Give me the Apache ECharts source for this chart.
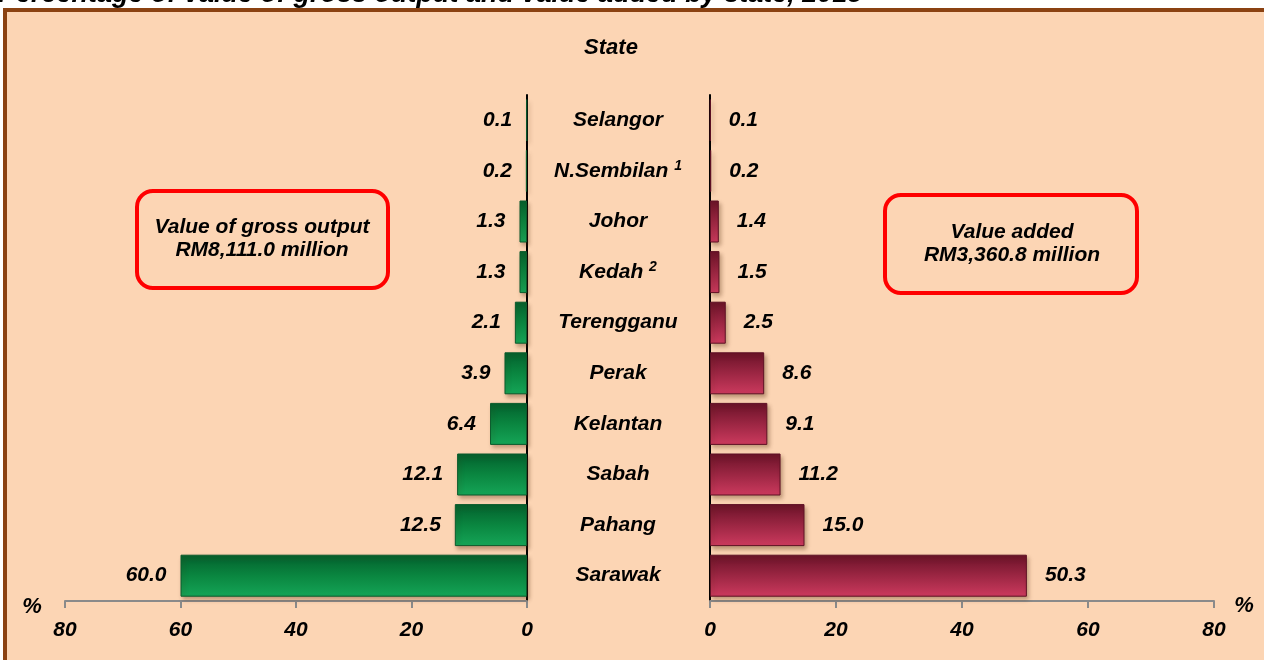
<!DOCTYPE html>
<html>
<head>
<meta charset="utf-8">
<script src="https://cdn.jsdelivr.net/npm/echarts@6/dist/echarts.min.js"></script>
<style>
  html, body { margin: 0; padding: 0; background: #fff; }
  #main { width: 1264px; height: 660px; }
</style>
</head>
<body>
<div id="main"></div>
<script>
// states, top to bottom
var states = ['Selangor', 'N.Sembilan', 'Johor', 'Kedah', 'Terengganu', 'Perak', 'Kelantan', 'Sabah', 'Pahang', 'Sarawak'];
var sup = { 'N.Sembilan': '1', 'Kedah': '2' };
// % share of value of gross output
var grossOutput = [0.1, 0.2, 1.3, 1.3, 2.1, 3.9, 6.4, 12.1, 12.5, 60.0];
// % share of value added
var valueAdded = [0.1, 0.2, 1.4, 1.5, 2.5, 8.6, 9.1, 11.2, 15.0, 50.3];
var ticks = [0, 20, 40, 60, 80];

var FONT = 'Liberation Sans, Arial, sans-serif';
var txt = { fontFamily: FONT, fontWeight: 'bold', fontStyle: 'italic', color: '#000' };

var chart = echarts.init(document.getElementById('main'));

var greenFill = new echarts.graphic.LinearGradient(0, 0, 0, 1, [
  { offset: 0, color: '#03602d' },
  { offset: 0.5, color: '#0a8640' },
  { offset: 1, color: '#15a557' }
]);
var redFill = new echarts.graphic.LinearGradient(0, 0, 0, 1, [
  { offset: 0, color: '#6a1228' },
  { offset: 0.5, color: '#9c2643' },
  { offset: 1, color: '#cc3a5e' }
]);

function xAxisOpt(gi, inverse) {
  return {
    gridIndex: gi, type: 'value', min: 0, max: 80, interval: 20, inverse: inverse,
    splitLine: { show: false },
    axisLine: { show: true, lineStyle: { color: '#8a8a8a', width: 2 } },
    axisTick: { show: true, length: 7, lineStyle: { color: '#8a8a8a', width: 2 } },
    axisLabel: Object.assign({ fontSize: 21, margin: 19, formatter: function (v) { return ticks.indexOf(v) >= 0 ? v : ''; } }, txt)
  };
}

chart.setOption({
  backgroundColor: '#ffffff',
  animation: false,
  graphic: [
    // title sits above the frame and is mostly cut off at the page top
    { type: 'text', z: 0, x: -2, y: 8,
      style: { text: 'Percentage of value of gross output and value added by state, 2015', font: 'italic bold 27px ' + FONT, fill: '#000', verticalAlign: 'bottom' } },
    { type: 'rect', z: 0, shape: { x: 5, y: 10, width: 1280, height: 680 },
      style: { fill: '#fcd5b4', stroke: '#8b4212', lineWidth: 4 } },
    { type: 'text', z: 10, x: 611, y: 48, style: { text: 'State', font: 'italic bold 22px ' + FONT, fill: '#000', align: 'center', verticalAlign: 'middle' } },
    { type: 'text', z: 10, x: 32, y: 607, style: { text: '%', font: 'italic bold 22px ' + FONT, fill: '#000', align: 'center', verticalAlign: 'middle' } },
    { type: 'text', z: 10, x: 1244, y: 606, style: { text: '%', font: 'italic bold 22px ' + FONT, fill: '#000', align: 'center', verticalAlign: 'middle' } },
    { type: 'rect', z: 10, shape: { x: 137, y: 191, width: 251, height: 97, r: 16 },
      style: { fill: 'none', stroke: '#ff0000', lineWidth: 4 } },
    { type: 'text', z: 10, x: 262, y: 239, style: { text: 'Value of gross output\nRM8,111.0 million', font: 'italic bold 21px ' + FONT, lineHeight: 23, fill: '#000', align: 'center', verticalAlign: 'middle' } },
    { type: 'rect', z: 10, shape: { x: 885, y: 195, width: 252, height: 98, r: 16 },
      style: { fill: 'none', stroke: '#ff0000', lineWidth: 4 } },
    { type: 'text', z: 10, x: 1012, y: 244, style: { text: 'Value added\nRM3,360.8 million', font: 'italic bold 21px ' + FONT, lineHeight: 23, fill: '#000', align: 'center', verticalAlign: 'middle' } }
  ],
  grid: [
    { left: 65, right: 737, top: 95, bottom: 59 },
    { left: 710, right: 50, top: 95, bottom: 59 }
  ],
  xAxis: [xAxisOpt(0, true), xAxisOpt(1, false)],
  yAxis: [
    { gridIndex: 0, type: 'category', data: states, inverse: true, position: 'right',
      axisLine: { show: true, lineStyle: { color: '#000', width: 2 } },
      axisTick: { show: false }, axisLabel: { show: false } },
    { gridIndex: 1, type: 'category', data: states, inverse: true, position: 'left',
      axisLine: { show: true, lineStyle: { color: '#000', width: 2 } },
      axisTick: { show: false },
      axisLabel: Object.assign({
        fontSize: 21, margin: 92, align: 'center',
        formatter: function (v) { return sup[v] ? v + ' {s|' + sup[v] + '}' : v; },
        rich: { s: Object.assign({ fontSize: 14, verticalAlign: 'top', padding: [0, 0, 10, 0] }, txt) }
      }, txt) }
  ],
  series: [
    { type: 'bar', xAxisIndex: 0, yAxisIndex: 0, data: grossOutput, barWidth: 42,
      itemStyle: { color: greenFill, borderColor: '#0b5a2c', borderWidth: 1,
        shadowColor: 'rgba(80,40,10,0.35)', shadowBlur: 4, shadowOffsetX: 2, shadowOffsetY: 3 },
      label: Object.assign({ show: true, position: 'left', distance: 14, fontSize: 21,
        formatter: function (p) { return p.value.toFixed(1); } }, txt) },
    { type: 'bar', xAxisIndex: 1, yAxisIndex: 1, data: valueAdded, barWidth: 42,
      itemStyle: { color: redFill, borderColor: '#5e1024', borderWidth: 1,
        shadowColor: 'rgba(80,40,10,0.35)', shadowBlur: 4, shadowOffsetX: 2, shadowOffsetY: 3 },
      label: Object.assign({ show: true, position: 'right', distance: 18, fontSize: 21,
        formatter: function (p) { return p.value.toFixed(1); } }, txt) }
  ]
});
</script>
</body>
</html>
